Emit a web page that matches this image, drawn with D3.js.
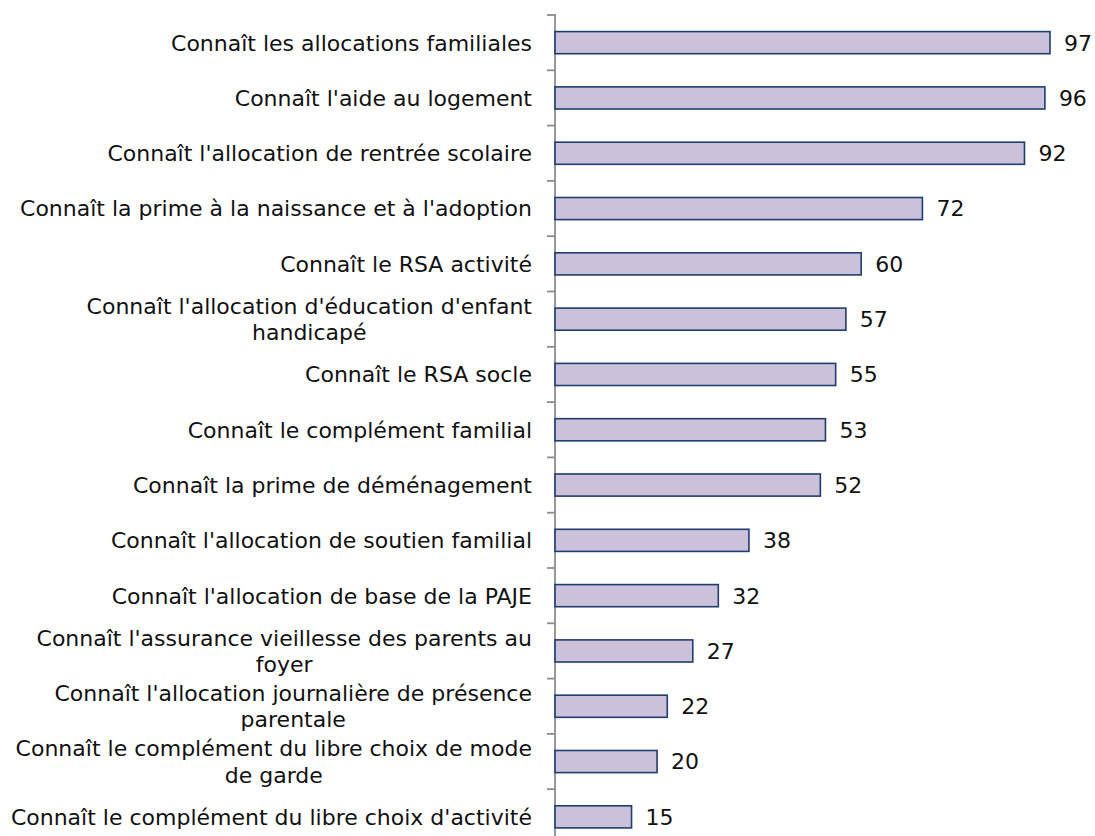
<!DOCTYPE html>
<html lang="fr">
<head>
<meta charset="utf-8">
<script src="https://cdn.jsdelivr.net/npm/d3@7/dist/d3.min.js"></script>
<style>
  html, body { margin: 0; padding: 0; background: #ffffff; }
  svg { display: block; }
  text { font-family: "DejaVu Sans", Verdana, sans-serif; fill: #111111; }
</style>
</head>
<body>
<svg id="chart" width="1095" height="836"></svg>
<script>
// Prestations connues (en %), une ligne de libellé par élément
const categories = [
  ["Connaît les allocations familiales"],
  ["Connaît l'aide au logement"],
  ["Connaît l'allocation de rentrée scolaire"],
  ["Connaît la prime à la naissance et à l'adoption"],
  ["Connaît le RSA activité"],
  ["Connaît l'allocation d'éducation d'enfant", "handicapé"],
  ["Connaît le RSA socle"],
  ["Connaît le complément familial"],
  ["Connaît la prime de déménagement"],
  ["Connaît l'allocation de soutien familial"],
  ["Connaît l'allocation de base de la PAJE"],
  ["Connaît l'assurance vieillesse des parents au", "foyer"],
  ["Connaît l'allocation journalière de présence", "parentale"],
  ["Connaît le complément du libre choix de mode", "de garde"],
  ["Connaît le complément du libre choix d'activité"]
];
const values = [97, 96, 92, 72, 60, 57, 55, 53, 52, 38, 32, 27, 22, 20, 15];
const xDomain = [0, 100];

const svg = d3.select("#chart");
const axisX = 555;
const plotTop = 15;
const step = 55.3;

const ids = d3.range(categories.length);
const y = d3.scaleBand()
  .domain(ids)
  .range([plotTop, plotTop + step * categories.length])
  .paddingInner(0.6)
  .paddingOuter(0.3);

const x = d3.scaleLinear().domain(xDomain).range([axisX, axisX + 510.3]);

// Category axis with ticks between the bands
const tickPositions = d3.range(categories.length + 1).map(i => plotTop + step * i);
svg.append("line")
  .attr("x1", axisX).attr("x2", axisX)
  .attr("y1", plotTop - 1).attr("y2", tickPositions[tickPositions.length - 1])
  .attr("stroke", "#8c8c8c").attr("stroke-width", 1.8);
svg.selectAll("line.tick").data(tickPositions).join("line")
  .attr("class", "tick")
  .attr("x1", axisX - 8).attr("x2", axisX)
  .attr("y1", d => d).attr("y2", d => d)
  .attr("stroke", "#8c8c8c").attr("stroke-width", 1.8);

// Bars
svg.selectAll("rect.bar").data(ids).join("rect")
  .attr("class", "bar")
  .attr("x", x(0))
  .attr("y", i => y(i))
  .attr("width", i => x(values[i]) - x(0))
  .attr("height", y.bandwidth())
  .attr("fill", "#ccc1da")
  .attr("stroke", "#1f3d6e")
  .attr("stroke-width", 1.6);

// Value labels
svg.selectAll("text.val").data(ids).join("text")
  .attr("class", "val")
  .attr("x", i => x(values[i]) + 14)
  .attr("y", i => y(i) + y.bandwidth() / 2)
  .attr("dy", "0.36em")
  .attr("font-size", 22)
  .text(i => values[i]);

// Category labels: block right-aligned, lines centred inside the block
const labelRight = 532;
const lineH = 26.5;
ids.forEach(i => {
  const lines = categories[i];
  const cy = y(i) + y.bandwidth() / 2;
  const t = svg.append("text")
    .attr("font-size", 22)
    .attr("text-anchor", "middle");
  const spans = lines.map((ln, k) => t.append("tspan")
    .attr("y", cy + (k - (lines.length - 1) / 2) * lineH)
    .attr("dy", "0.36em")
    .text(ln));
  const maxW = d3.max(spans, s => s.node().getComputedTextLength());
  spans.forEach(s => s.attr("x", labelRight - maxW / 2));
});
</script>
</body>
</html>
